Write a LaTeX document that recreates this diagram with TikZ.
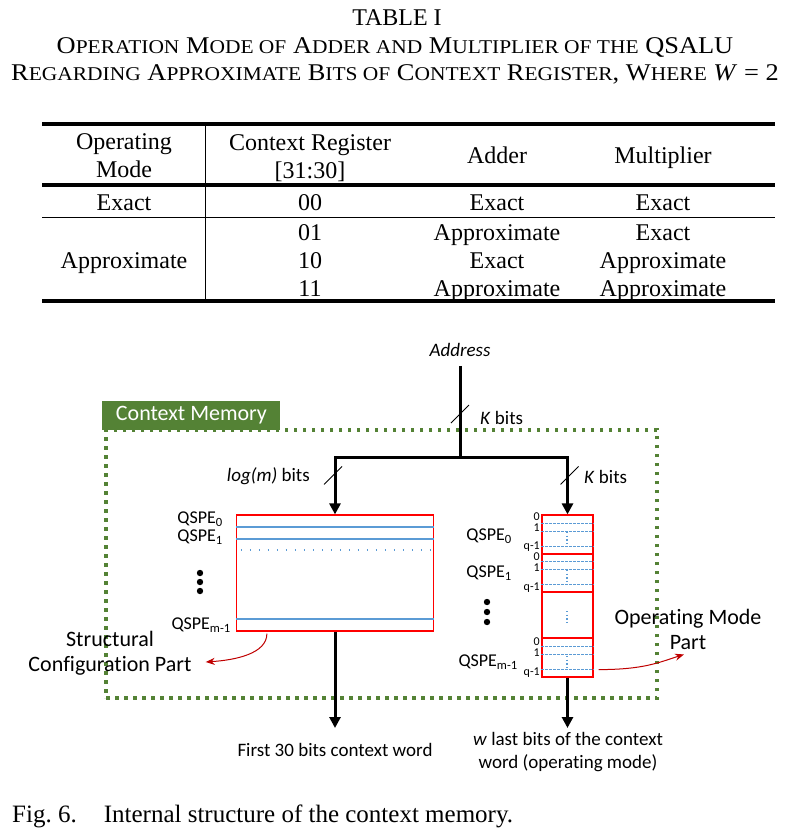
\documentclass[tikz,border=0pt]{standalone}
\usepackage{fontspec}
\setmainfont{Liberation Serif}
\newfontfamily\cali[Ligatures=NoCommon]{Carlito}
\usetikzlibrary{arrows.meta,positioning,calc}

\definecolor{memgreen}{RGB}{84,130,53}
\definecolor{rowblue}{RGB}{91,155,213}
\definecolor{darkred}{RGB}{192,0,0}

\newcommand{\smc}[1]{{\fontsize{19.5}{20}\selectfont #1}}

\begin{document}
\begin{tikzpicture}[x=1pt,y=-1pt,
  ttl/.style={font=\fontsize{24}{28}\selectfont,inner sep=0pt,anchor=base},
  tabtxt/.style={font=\fontsize{24}{28}\selectfont,inner sep=0pt,anchor=base},
  thickrule/.style={line width=4pt},
  thinrule/.style={line width=1pt},
  lbl/.style={font=\cali\fontsize{19}{23}\selectfont,inner sep=0pt},
  biglbl/.style={font=\cali\fontsize{22}{25}\selectfont,inner sep=0pt,align=center},
  qlbl/.style={font=\cali\fontsize{18}{20}\selectfont,inner sep=0pt,anchor=east},
  idx/.style={font=\cali\fontsize{12}{12}\selectfont,inner sep=0pt,anchor=east},
  bus/.style={line width=3pt},
  busarr/.style={line width=3pt,-{Triangle[length=11pt,width=11pt]}},
  slashmk/.style={line width=0.9pt},
  membox/.style={draw=red,line width=1.2pt,inner sep=0pt},
  redsep/.style={draw=red,line width=1.2pt},
  rowln/.style={draw=rowblue,line width=1.2pt},
  rowdots/.style={draw=rowblue,line width=1.2pt,dash pattern=on 1pt off 8pt},
  bitln/.style={draw=rowblue,line width=1pt,dash pattern=on 2.5pt off 1.5pt},
  bitdots/.style={draw=rowblue,line width=1.4pt,dash pattern=on 1.4pt off 2.2pt},
  redarr/.style={draw=darkred,line width=1pt,-{Stealth[length=9pt,width=7pt]}},
]
\useasboundingbox[fill=white] (0,0) rectangle (791,833);

% table title
\node[ttl] (tblno) at (397,25) {TABLE I};
\node[ttl] (ttl1) at (395,53) {\scalebox{1.1}[1]{O\smc{PERATION} M\smc{ODE OF} A\smc{DDER AND} M\smc{ULTIPLIER OF THE} QSALU}};
\node[ttl] (ttl2) at (395,80) {\scalebox{1.1}[1]{R\smc{EGARDING} A\smc{PPROXIMATE} B\smc{ITS OF} C\smc{ONTEXT} R\smc{EGISTER}, W\smc{HERE} \textit{W} = 2}};

% table
\draw[thickrule] (42,124) -- (775,124);
\draw[thickrule] (42,185) -- (775,185);
\draw[thinrule] (42,217) -- (775,217);
\draw[thickrule] (42,301) -- (775,301);
\draw[thinrule] (205,126) -- (205,299);

\node[tabtxt,align=center,anchor=center] (hmode) at (124,156) {Operating\\Mode};
\node[tabtxt,align=center,anchor=center] (hreg) at (310,158) {Context Register\\{[31:30]}};
\node[tabtxt] (hadd) at (497,163.5) {Adder};
\node[tabtxt] (hmul) at (663,163.5) {Multiplier};

\node[tabtxt] (mexact) at (124,210.5) {Exact};
\node[tabtxt] (r00) at (310,210.5) {00};
\node[tabtxt] (a00) at (497,210.5) {Exact};
\node[tabtxt] (m00) at (663,210.5) {Exact};

\node[tabtxt] (mapprox) at (124,268.5) {Approximate};
\node[tabtxt] (r01) at (310,240.5) {01};
\node[tabtxt] (a01) at (497,240.5) {Approximate};
\node[tabtxt] (m01) at (663,240.5) {Exact};
\node[tabtxt] (r10) at (310,268.5) {10};
\node[tabtxt] (a10) at (497,268.5) {Exact};
\node[tabtxt] (m10) at (663,268.5) {Approximate};
\node[tabtxt] (r11) at (310,296.5) {11};
\node[tabtxt] (a11) at (497,296.5) {Approximate};
\node[tabtxt] (m11) at (663,296.5) {Approximate};

% context memory frame
\node[draw=memgreen,line width=3.5pt,dash pattern=on 3.5pt off 5.5pt,
      minimum width=551pt,minimum height=268pt,inner sep=0pt] (mem) at (381.5,564) {};
\node[fill=memgreen,text=white,font=\cali\fontsize{22}{22}\selectfont,
      minimum width=178pt,minimum height=29pt,inner sep=0pt,anchor=south west]
      (memtitle) at ($(mem.north west)+(-2,2)$) {Context Memory};

% address bus
\node[lbl] (addr) at (460,350) {\textit{Address}};
\coordinate (split) at (460,457);
\node[membox,minimum width=197pt,minimum height=116pt] (cfg) at (335,573) {};
\node[membox,minimum width=51pt,minimum height=162pt] (opm) at (567.5,596) {};

\draw[bus,shorten <=9pt] (addr.south) -- (split);
\draw[busarr] (split) -| (cfg.north);
\draw[busarr] (split) -| (opm.north);

\draw[slashmk] ($(split)+(-9,-34)$) -- ++(18,-18);
\draw[slashmk] ($(cfg.north)+(-11,-30)$) -- ++(18,-18);
\draw[slashmk] ($(opm.north)+(-7,-30)$) -- ++(18,-18);
\node[lbl,anchor=west] (kmain) at (480,418) {\textit{K} bits};
\node[lbl,anchor=west] (kright) at (584,477) {\textit{K} bits};
\node[lbl,anchor=east] (klog) at (310,476) {\textit{log(m)} bits};

% structural part rows
\draw[rowln] (cfg.west |- 0,527) -- (cfg.east |- 0,527);
\draw[rowln] (cfg.west |- 0,539) -- (cfg.east |- 0,539);
\draw[rowdots] ([xshift=5pt]cfg.west |- 0,550) -- (cfg.east |- 0,550);
\draw[rowln] (cfg.west |- 0,619) -- (cfg.east |- 0,619);
\node[qlbl] (cq0) at (223,519) {QSPE\textsubscript{0}};
\node[qlbl] (cq1) at (223,537) {QSPE\textsubscript{1}};
\node[qlbl] (cqm) at (231,625) {QSPE\textsubscript{m-1}};
\foreach \yy in {573,582,591} \fill (200,\yy) circle[radius=3.2pt];

% operating mode part rows
\foreach \yy in {554,592,638} \draw[redsep] (opm.west |- 0,\yy) -- (opm.east |- 0,\yy);
\foreach \yy in {523,531,546,561,569,584,646,654,669}
  \draw[bitln] (opm.west |- 0,\yy) -- (opm.east |- 0,\yy);
\foreach \yy in {538,576,617,662} \draw[bitdots] (567,\yy-6) -- (567,\yy+6);
\foreach \yy/\tx in {517/0,528/1,547/q-1,557/0,568/1,588/q-1,642/0,653/1,673/q-1}
  \node[idx] at (540,\yy) {\tx};
\node[qlbl] (oq0) at (512,536) {QSPE\textsubscript{0}};
\node[qlbl] (oq1) at (512,573) {QSPE\textsubscript{1}};
\node[qlbl] (oqm) at (518,662) {QSPE\textsubscript{m-1}};
\foreach \yy in {602,612,622} \fill (487,\yy) circle[radius=3.2pt];

% outputs
\coordinate (cfgend) at (cfg.south |- 0,728);
\coordinate (opmend) at (opm.south |- 0,728);
\draw[busarr] (cfg.south) -- (cfgend);
\draw[busarr] (opm.south) -- (opmend);
\node[lbl] (firstw) at (335,750) {First 30 bits context word};
\node[lbl,align=center] (lastw) at (568,752) {\textit{w} last bits of the context\\word (operating mode)};

% part labels
\node[biglbl] (strpart) at (110,653) {Structural\\Configuration Part};
\node[biglbl] (opmpart) at (688,629) {Operating Mode\\Part};
\draw[redarr] ($(cfg.south west)+(31,2)$) .. controls +(0,20) and +(30,-2) .. ($(strpart.east)+(14,9)$);
\draw[redarr] ($(opm.south east)+(5,-8)$) .. controls +(45,0) and +(-25,8) .. ($(opmpart.south)+(-4,5)$);

% caption
\node[anchor=base west,inner sep=0pt,font=\fontsize{25}{28}\selectfont] (cap) at (12,822)
  {Fig.~6.\hspace{27pt}Internal structure of the context memory.};
\end{tikzpicture}
\end{document}
